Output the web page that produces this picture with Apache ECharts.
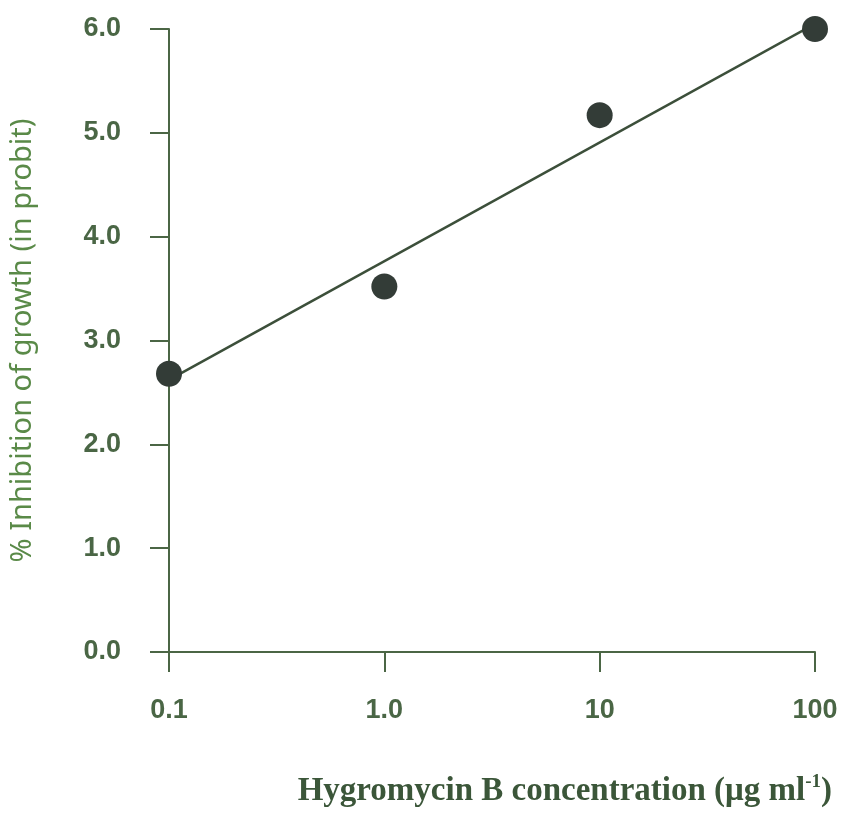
<!DOCTYPE html>
<html>
<head>
<meta charset="utf-8">
<script src="https://cdn.jsdelivr.net/npm/echarts@6/dist/echarts.min.js"></script>
<style>
  html, body { margin: 0; padding: 0; background: #ffffff; }
  #chart { width: 845px; height: 814px; }
</style>
</head>
<body>
<div id="chart"></div>
<script>
// Hygromycin B dose-response: concentration (µg/ml) vs. probit of growth inhibition
const concentrations = [0.1, 1, 10, 100];
const probitValues = [2.68, 3.52, 5.17, 6.0];

// Fitted regression line end points (probit at 0.1 and 100 µg/ml)
const fitConcentrations = [0.1, 100];
const fitProbits = [2.62, 6.05];

// Tick labels on the log-scaled concentration axis
const xTickLabels = { '0.1': '0.1', '1': '1.0', '10': '10', '100': '100' };

const axisColor = '#4b6645';
const tickTextColor = '#4a6645';

const chart = echarts.init(document.getElementById('chart'));

chart.setOption({
  animation: false,
  backgroundColor: '#ffffff',
  grid: { left: 166, right: 30, top: 29, bottom: 162, containLabel: false },
  title: {
    text: '{a|Hygromycin B concentration (μg ml}{s|-1}{a|)}',
    right: 8,
    top: 768,
    textStyle: {
      fontWeight: 'bold',
      rich: {
        a: { fontFamily: 'Liberation Serif', fontWeight: 'bold', fontSize: 33, color: '#3b5639' },
        s: { fontFamily: 'Liberation Serif', fontWeight: 'bold', fontSize: 19, color: '#3b5639', verticalAlign: 'top', padding: [0, 0, 18, 0] }
      }
    }
  },
  xAxis: {
    type: 'log',
    logBase: 10,
    min: 0.1,
    max: 100,
    axisLine: { show: true, onZero: false, lineStyle: { color: axisColor, width: 2 } },
    axisTick: { show: true, inside: false, length: 20, lineStyle: { color: axisColor, width: 2 } },
    axisLabel: {
      margin: 45,
      fontFamily: 'Liberation Sans',
      fontWeight: 'bold',
      fontSize: 27,
      color: tickTextColor,
      formatter: function (v) {
        const key = String(Math.round(v * 10) / 10);
        return xTickLabels[key] !== undefined ? xTickLabels[key] : '';
      }
    },
    splitLine: { show: false },
    minorTick: { show: false }
  },
  yAxis: {
    type: 'value',
    min: 0,
    max: 6,
    interval: 1,
    name: '% Inhibition of growth (in probit)',
    nameLocation: 'middle',
    nameGap: 132,
    nameRotate: 90,
    nameTextStyle: { fontFamily: 'Noto Sans', fontSize: 29, color: '#5a8a48' },
    axisLine: { show: true, lineStyle: { color: axisColor, width: 2 } },
    axisTick: { show: true, inside: false, length: 19, lineStyle: { color: axisColor, width: 2 } },
    axisLabel: {
      margin: 48,
      fontFamily: 'Liberation Sans',
      fontWeight: 'bold',
      fontSize: 27,
      color: tickTextColor,
      formatter: function (v) { return v.toFixed(1); }
    },
    splitLine: { show: false }
  },
  series: [
    {
      type: 'line',
      data: fitConcentrations.map((c, i) => [c, fitProbits[i]]),
      showSymbol: false,
      symbol: 'none',
      lineStyle: { color: '#3c4f3a', width: 2.5 },
      z: 2
    },
    {
      type: 'scatter',
      data: concentrations.map((c, i) => [c, probitValues[i]]),
      symbol: 'circle',
      symbolSize: 26,
      itemStyle: { color: '#333c37', opacity: 1 },
      z: 3
    }
  ]
});
</script>
</body>
</html>
